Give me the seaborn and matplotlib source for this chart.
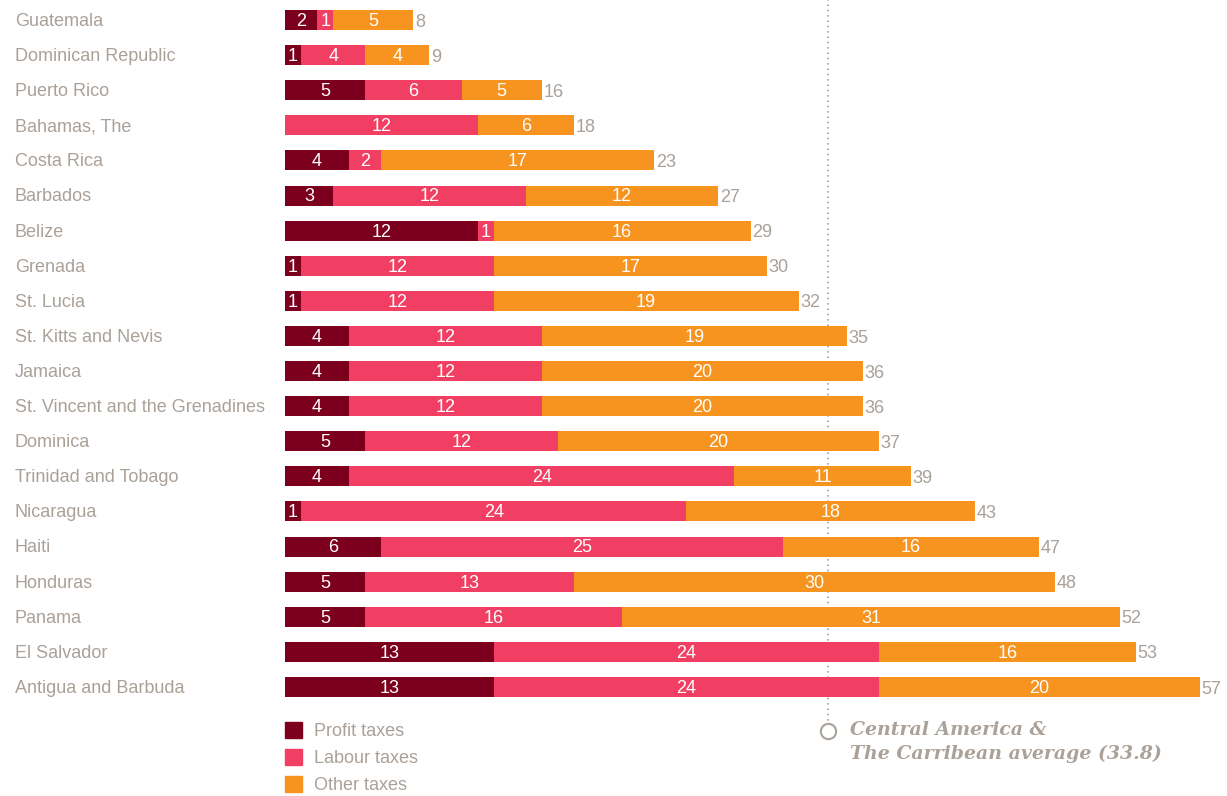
import matplotlib
matplotlib.use("Agg")
import matplotlib.pyplot as plt
import seaborn as sns
import pandas as pd
from matplotlib.patches import Patch

sns.set_theme(style="white")
plt.rcParams['font.family'] = ['Liberation Sans', 'DejaVu Sans']

countries = ['Guatemala', 'Dominican Republic', 'Puerto Rico', 'Bahamas, The', 'Costa Rica',
             'Barbados', 'Belize', 'Grenada', 'St. Lucia', 'St. Kitts and Nevis', 'Jamaica',
             'St. Vincent and the Grenadines', 'Dominica', 'Trinidad and Tobago', 'Nicaragua',
             'Haiti', 'Honduras', 'Panama', 'El Salvador', 'Antigua and Barbuda']
profit = [2, 1, 5, 0, 4, 3, 12, 1, 1, 4, 4, 4, 5, 4, 1, 6, 5, 5, 13, 13]
labour = [1, 4, 6, 12, 2, 12, 1, 12, 12, 12, 12, 12, 12, 24, 24, 25, 13, 16, 24, 24]
other = [5, 4, 5, 6, 17, 12, 16, 17, 19, 19, 20, 20, 20, 11, 18, 16, 30, 31, 16, 20]
average = 33.8

c_profit = '#7c001e'
c_labour = '#f03f62'
c_other = '#f7931f'
grey = '#aaa199'

df = pd.DataFrame({'country': countries, 'profit': profit, 'labour': labour, 'other': other})
df['pl'] = df['profit'] + df['labour']
df['total'] = df['pl'] + df['other']

fig = plt.figure(figsize=(12.27, 7.96), dpi=100)
ax = fig.add_axes([285 / 1227, 91.5 / 796, (1216 - 285) / 1227, 702 / 796])

# stacked bars: draw cumulative sums back to front
for col, c in [('total', c_other), ('pl', c_labour), ('profit', c_profit)]:
    sns.barplot(data=df, y='country', x=col, color=c, width=0.57, orient='h',
                saturation=1, linewidth=0, ax=ax)

ax.set_xlim(0, 58)
ax.set_ylim(19.5, -0.5)
ax.set_xlabel('')
ax.set_ylabel('')
ax.set_xticks([])
ax.set_yticks([])
for s in ax.spines.values():
    s.set_visible(False)

fs = 13
for i, row in df.iterrows():
    starts = [0, row['profit'], row['pl']]
    vals = [row['profit'], row['labour'], row['other']]
    for st, v in zip(starts, vals):
        if v > 0:
            ax.text(st + v / 2, i + 0.04, str(v), color='white', ha='center', va='center',
                    fontsize=fs)
    ax.text(row['total'] + 0.1, i + 0.06, str(row['total']), color=grey, ha='left',
            va='center', fontsize=fs)
    # country names on the left
    ax.annotate(row['country'], xy=(15 / 1227, i + 0.04), xycoords=('figure fraction', 'data'),
                color=grey, fontsize=fs, ha='left', va='center')

# average line
ax.plot([average, average], [-0.75, 20.1], linestyle=(0, (1, 2.2)), color=grey, lw=1.2,
        clip_on=False, zorder=0)
ax.plot([average], [20.25], marker='o', markersize=11, markerfacecolor='white',
        markeredgecolor=grey, markeredgewidth=1.5, clip_on=False)
ax.annotate('Central America &\nThe Carribean average (33.8)', xy=(850 / 1227, 1 - 721 / 796),
            xycoords='figure fraction', ha='left', va='top', color=grey, fontsize=13.6,
            family=['DejaVu Serif'], style='italic', fontweight='bold', linespacing=1.4)

handles = [Patch(color=c_profit, label='Profit taxes'),
           Patch(color=c_labour, label='Labour taxes'),
           Patch(color=c_other, label='Other taxes')]
leg = fig.legend(handles=handles, loc='upper left', bbox_to_anchor=(285 / 1227, 1 - 722 / 796),
                 frameon=False, fontsize=fs, handlelength=0.95, handleheight=0.95,
                 handletextpad=0.65, labelspacing=0.5, borderpad=0, borderaxespad=0)
for t in leg.get_texts():
    t.set_color(grey)

fig.savefig('out.png', dpi=100)
